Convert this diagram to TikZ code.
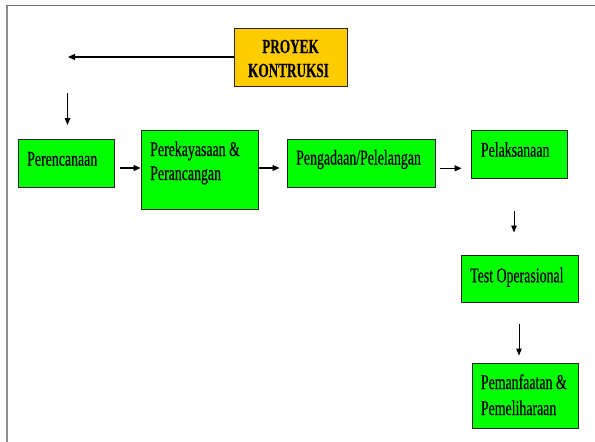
\documentclass[tikz,border=0pt]{standalone}
\usepackage{fontspec}
\setmainfont{Liberation Serif}[FakeStretch=0.66,FakeBold=0.4]
\usetikzlibrary{arrows.meta,calc}
\definecolor{boxgreen}{HTML}{00FF00}
\definecolor{boxyellow}{HTML}{FFCC00}
\definecolor{framegray}{HTML}{707070}
\tikzset{
  box/.style={draw=black!85, line width=0.9pt, inner sep=0pt, fill=boxgreen},
  lbl/.style={anchor=base west, inner sep=0pt, font=\fontsize{21}{25}\selectfont},
  arr/.style={draw=black, line width=1.1pt, -{Triangle[length=7pt,width=6pt]}},
  varr/.style={draw=black, line width=0.9pt, -{Triangle[length=7pt,width=5.5pt]}}
}
\begin{document}
\begin{tikzpicture}[x=1pt,y=-1pt]
\useasboundingbox (0,0) rectangle (595,442);
% frame
\draw[framegray!80, line width=1.6pt] (6.7,443) -- (6.7,5.3);
\draw[framegray, line width=1.6pt] (6.0,5.3) -- (596,5.3);

% boxes
\node[box, fill=boxyellow, minimum width=113pt, minimum height=58pt] (pk) at (290.5,57) {};
\node[box, minimum width=96pt, minimum height=48pt] (per) at (66,163) {};
\node[box, minimum width=117pt, minimum height=79pt] (rek) at (199.5,169.5) {};
\node[box, minimum width=148.5pt, minimum height=48pt] (ada) at (361.2,163.3) {};
\node[box, minimum width=96pt, minimum height=48pt] (pel) at (519,154) {};
\node[box, minimum width=117pt, minimum height=47.5pt] (test) at (519.5,278.7) {};
\node[box, minimum width=106pt, minimum height=65pt] (pem) at (525,395.5) {};

% texts
\node[lbl, anchor=base, font=\fontsize{20}{24}\selectfont\bfseries] (pk1) at (290.5,53) {PROYEK};
\node[lbl, anchor=base, font=\fontsize{20}{24}\selectfont\bfseries] (pk2) at (288.5,77) {KONTRUKSI};
\node[lbl] (tper) at (27,165.7) {Perencanaan};
\node[lbl] (trek1) at (150,156) {Perekayasaan \&};
\node[lbl] (trek2) at (150,180) {Perancangan};
\node[lbl] (tada) at (296,164.5) {Pengadaan/Pelelangan};
\node[lbl] (tpel) at (480.7,156.7) {Pelaksanaan};
\node[lbl] (ttest) at (470,282.3) {Test Operasional};
\node[lbl] (tpem1) at (480.7,389) {Pemanfaatan \&};
\node[lbl] (tpem2) at (480.7,415) {Pemeliharaan};

% connectors
\coordinate (tl) at (68,57);
\coordinate (da) at (67.5,93);
\coordinate (db) at (67.5,125);
\draw[arr, line width=1.3pt] (pk.west) -- (tl);
\draw[varr] (da) -- (db);
\draw[arr] ([xshift=6pt,yshift=-5pt]per.east) -- ([yshift=1.5pt]rek.west);
\draw[arr] ([yshift=1.5pt]rek.east) -- ([xshift=-7pt,yshift=-4.7pt]ada.west);
\draw[arr] ([xshift=4.5pt,yshift=-5pt]ada.east) -- ([xshift=-9pt,yshift=-14.3pt]pel.west);
\draw[varr] ([xshift=-5pt,yshift=-33pt]pel.south) -- ([xshift=-5.5pt,yshift=22pt]test.north);
\draw[varr] ([xshift=-0.5pt,yshift=-21.5pt]test.south) -- ([xshift=-6pt,yshift=7pt]pem.north);
\end{tikzpicture}
\end{document}
